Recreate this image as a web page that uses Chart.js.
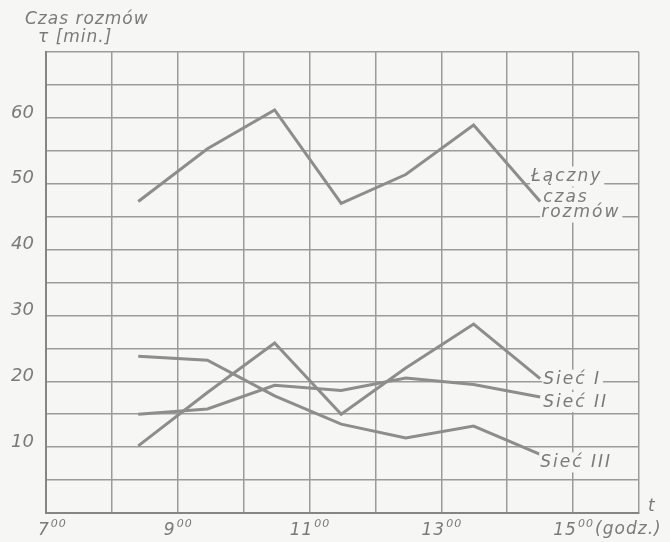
<!DOCTYPE html>
<html>
<head>
<meta charset="utf-8">
<script src="https://cdn.jsdelivr.net/npm/chart.js@4"></script>
<style>
  html, body { margin: 0; padding: 0; background: #f6f6f4; }
  #wrap { width: 670px; height: 542px; }
</style>
</head>
<body>
<div id="wrap"><canvas id="chart"></canvas></div>
<script>
// time of each reading, in hours
const hours = [8.4, 9.45, 10.47, 11.48, 12.46, 13.49, 14.5];
const totalTime = [47.3, 55.3, 61.2, 47.0, 51.4, 58.9, 47.3];
const network1 = [10.2, 18.3, 25.8, 15.0, 22.0, 28.7, 20.4];
const network2 = [15.0, 15.8, 19.4, 18.6, 20.5, 19.5, 17.6];
const network3 = [23.8, 23.2, 17.8, 13.5, 11.4, 13.2, 8.9];
const seriesNames = [['Łączny', 'czas', 'rozmów'], ['Sieć I'], ['Sieć II'], ['Sieć III']];
const hourTicks = [7, 9, 11, 13, 15];
const valueTicks = [10, 20, 30, 40, 50, 60];

const ink = '#7a7a7a';
const lineColor = '#8d8d8d';
const paper = '#f6f6f4';
const handFont = '"DejaVu Sans", sans-serif';

function toPoints(values) {
  return values.map((v, i) => ({x: hours[i], y: v}));
}

// where each name sits relative to the last point of its line
const nameOffsets = [
  [[-9, -25], [3, -4], [1, 11]],
  [[3, 1]],
  [[3, 5]],
  [[0, 8]],
];

const paperPlugin = {
  id: 'paper',
  beforeDraw(chart) {
    const ctx = chart.ctx;
    ctx.save();
    ctx.fillStyle = paper;
    ctx.fillRect(0, 0, chart.width, chart.height);
    ctx.restore();
  }
};

const namesPlugin = {
  id: 'names',
  afterDatasetsDraw(chart) {
    const ctx = chart.ctx;
    const xs = chart.scales.x;
    const ys = chart.scales.y;
    ctx.save();
    ctx.textBaseline = 'middle';
    ctx.textAlign = 'left';

    // series names at the line ends
    ctx.font = 'italic 17px ' + handFont;
    ctx.letterSpacing = '2px';
    chart.data.datasets.forEach((ds, i) => {
      const pts = chart.getDatasetMeta(i).data;
      const last = pts[pts.length - 1];
      seriesNames[i].forEach((txt, j) => {
        const x = last.x + nameOffsets[i][j][0];
        const y = last.y + nameOffsets[i][j][1];
        const w = ctx.measureText(txt).width;
        ctx.fillStyle = paper;
        ctx.fillRect(x - 1, y - 10, w + 3, 20);
        ctx.fillStyle = ink;
        ctx.fillText(txt, x, y);
      });
    });

    // axis captions
    ctx.fillStyle = ink;
    ctx.letterSpacing = '1px';
    ctx.fillText('Czas rozmów', 25, 20);
    ctx.fillText('τ [min.]', 38, 38);

    // hour labels with raised minutes
    ctx.letterSpacing = '1px';
    hourTicks.forEach(h => {
      ctx.font = 'italic 17px ' + handFont;
      const main = String(h);
      const mw = ctx.measureText(main).width;
      ctx.font = 'italic 11px ' + handFont;
      const sw = ctx.measureText('00').width;
      const cx = xs.getPixelForValue(h);
      const x0 = Math.max(cx - (mw + sw) / 2, 38);
      ctx.font = 'italic 17px ' + handFont;
      ctx.fillText(main, x0, 531);
      ctx.font = 'italic 11px ' + handFont;
      ctx.fillText('00', x0 + mw + 1, 524);
    });
    ctx.font = 'italic 17px ' + handFont;
    ctx.fillText('(godz.)', xs.getPixelForValue(15) + 22, 530);
    ctx.fillText('t', xs.right + 9, ys.bottom - 6);
    ctx.restore();
  }
};

new Chart(document.getElementById('chart'), {
  type: 'line',
  data: {
    datasets: [totalTime, network1, network2, network3].map(vals => ({
      data: toPoints(vals),
      borderColor: lineColor,
      borderWidth: 3,
      pointRadius: 0,
      tension: 0,
      borderJoinStyle: 'miter',
      fill: false,
    })),
  },
  plugins: [paperPlugin, namesPlugin],
  options: {
    responsive: true,
    maintainAspectRatio: false,
    animation: false,
    layout: { padding: { top: 52, right: 31, left: 0, bottom: 0 } },
    plugins: {
      legend: { display: false },
      tooltip: { enabled: false },
    },
    scales: {
      x: {
        type: 'linear',
        min: 7,
        max: 16,
        afterFit: s => { s.height = 29; },
        grid: { color: '#9b9b9b', lineWidth: 1.5, drawTicks: false },
        border: { color: '#858585', width: 2 },
        ticks: {
          stepSize: 1,
          autoSkip: false,
          maxRotation: 0,
          callback: () => '',
        },
      },
      y: {
        min: 0,
        max: 70,
        afterFit: s => { s.width = 46; },
        grid: { color: '#9b9b9b', lineWidth: 1.5, drawTicks: false },
        border: { color: '#858585', width: 2 },
        ticks: {
          stepSize: 5,
          autoSkip: false,
          padding: 12,
          labelOffset: -5,
          color: ink,
          font: { family: handFont, style: 'italic', size: 18 },
          callback: v => valueTicks.includes(v) ? String(v) : '',
        },
      },
    },
  },
});
</script>
</body>
</html>
